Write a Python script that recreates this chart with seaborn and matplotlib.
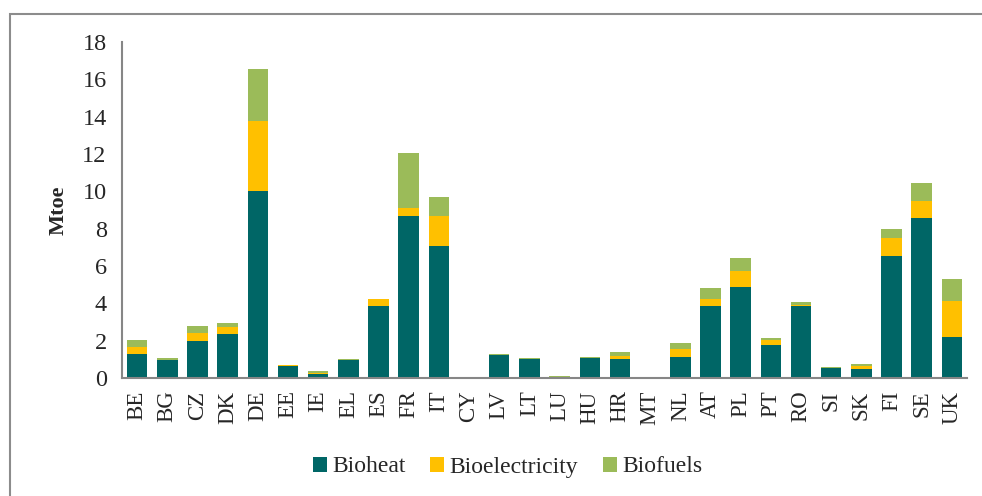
import numpy as np
import pandas as pd
import matplotlib
matplotlib.use("Agg")
import matplotlib.pyplot as plt
from matplotlib.patches import Rectangle
from matplotlib.ticker import FixedLocator
import seaborn as sns

countries = ["BE", "BG", "CZ", "DK", "DE", "EE", "IE", "EL", "ES", "FR", "IT", "CY", "LV", "LT",
             "LU", "HU", "HR", "MT", "NL", "AT", "PL", "PT", "RO", "SI", "SK", "FI", "SE", "UK"]
bioheat = [1.29, 0.94, 2.00, 2.37, 10.03, 0.66, 0.22, 0.96, 3.84, 8.66, 7.05, 0.01, 1.21, 1.00,
           0.03, 1.07, 1.00, 0.00, 1.10, 3.86, 4.86, 1.75, 3.84, 0.53, 0.48, 6.52, 8.55, 2.18]
bioelectricity = [0.37, 0.03, 0.41, 0.36, 3.75, 0.02, 0.05, 0.01, 0.41, 0.44, 1.61, 0.00, 0.04, 0.01,
                  0.01, 0.02, 0.19, 0.00, 0.45, 0.39, 0.85, 0.27, 0.06, 0.01, 0.14, 0.96, 0.91, 1.96]
biofuels = [0.39, 0.12, 0.39, 0.22, 2.79, 0.04, 0.12, 0.05, 0.00, 2.97, 1.05, 0.00, 0.05, 0.08,
            0.06, 0.03, 0.20, 0.00, 0.34, 0.59, 0.70, 0.14, 0.19, 0.06, 0.13, 0.50, 0.98, 1.18]
series_names = ["Bioheat", "Bioelectricity", "Biofuels"]
colors = ["#006666", "#FFC000", "#9BBB59"]
yticks = [0, 2, 4, 6, 8, 10, 12, 14, 16, 18]

df = pd.DataFrame({"country": countries, "Bioheat": bioheat,
                   "Bioelectricity": bioelectricity, "Biofuels": biofuels})
df["lvl1"] = df["Bioheat"]
df["lvl2"] = df["lvl1"] + df["Bioelectricity"]
df["lvl3"] = df["lvl2"] + df["Biofuels"]

sns.set_style("white")
plt.rcParams["font.family"] = ["Liberation Serif", "DejaVu Serif"]

fig = plt.figure(figsize=(9.82, 4.96), dpi=100)
ax = fig.add_axes([122 / 982, 1 - 378 / 496, (967 - 122) / 982, (378 - 42) / 496])

for col, name, color in zip(["lvl3", "lvl2", "lvl1"], series_names[::-1], colors[::-1]):
    sns.barplot(data=df, x="country", y=col, color=color, width=0.68, ax=ax,
                label=name, saturation=1, edgecolor="none", linewidth=0)

ax.set_xlim(-0.5, len(countries) - 0.5)
ax.set_ylim(0, 18)
ax.set_yticks(yticks)
ax.set_yticklabels([str(t) for t in yticks], fontsize=17.5)
ax.set_xticks(range(len(countries)))
ax.set_xticklabels(countries, rotation=90, fontsize=16.5)
ax.xaxis.set_minor_locator(FixedLocator(np.arange(-0.5, len(countries), 1.0)))
ax.tick_params(axis="x", which="major", length=0, pad=9)
ax.tick_params(axis="x", which="minor", length=6, width=1.2, color="#868686", direction="out")
ax.tick_params(axis="y", length=5, width=1.2, color="#868686", direction="out", pad=6)
ax.set_xlabel("")
ax.set_ylabel("Mtoe", fontsize=16, fontweight="bold", labelpad=10)

for s in ["top", "right"]:
    ax.spines[s].set_visible(False)
for s in ["left", "bottom"]:
    ax.spines[s].set_color("#868686")
    ax.spines[s].set_linewidth(1.5)

handles, labels = ax.get_legend_handles_labels()
order = [labels.index(n) for n in series_names]
fig.legend([handles[i] for i in order], [labels[i] for i in order],
           loc="center", bbox_to_anchor=(0.517, 1 - 467 / 496), ncol=3, frameon=False,
           fontsize=17, handlelength=0.6, handleheight=0.6, handletextpad=0.22,
           columnspacing=1.05)
if ax.get_legend() is not None:
    ax.get_legend().remove()

fig.add_artist(Rectangle((9.5 / 982, -0.1), 1.2, 1 - 13.5 / 496 + 0.1,
                         transform=fig.transFigure, fill=False,
                         edgecolor="#8c8c8c", linewidth=1.5))

fig.savefig("out.png", dpi=100)
